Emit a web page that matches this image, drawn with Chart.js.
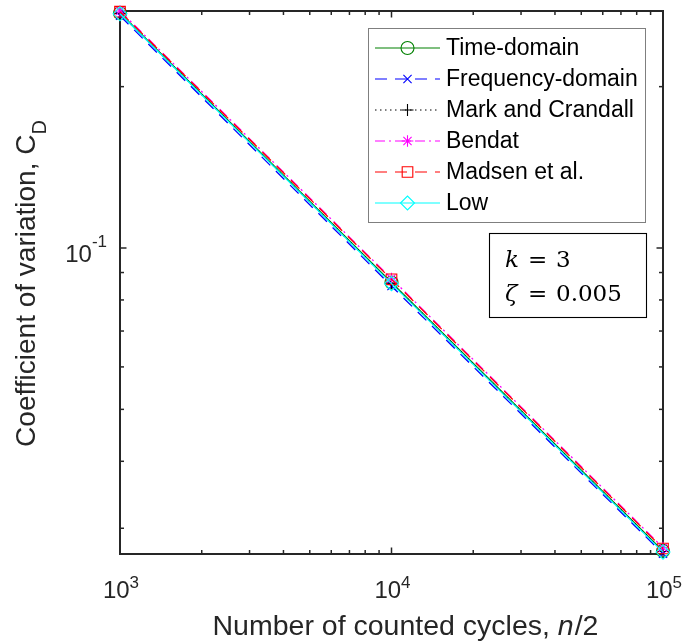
<!DOCTYPE html>
<html><head><meta charset="utf-8">
<script src="https://cdn.jsdelivr.net/npm/chart.js@4/dist/chart.umd.min.js"></script>
<style>html,body{margin:0;padding:0;background:#fff}#wrap{width:683px;height:643px}</style>
</head><body><div id="wrap"><canvas id="c" width="683" height="643"></canvas></div>
<script>
// ---------- data ----------
const cycles = [1000, 10000, 100000];
const seriesNames = ['Time-domain', 'Frequency-domain', 'Mark and Crandall', 'Bendat', 'Madsen et al.', 'Low'];
const timeDomain   = [0.2745, 0.0862, 0.02722];
const freqDomain   = [0.2712, 0.0849, 0.02690];
const markCrandall = [0.2740, 0.0860, 0.02715];
const bendat       = [0.2768, 0.0877, 0.02760];
const madsen       = [0.2760, 0.0874, 0.02750];
const low          = [0.2735, 0.0858, 0.02708];
const xMajorTicks = [1000, 10000, 100000];
const xTickLabels = [['10', '3'], ['10', '4'], ['10', '5']];
const yMajorTicks = [0.1];
const yTickLabels = [['10', '-1']];
const yMinorTicks = [0.03, 0.04, 0.05, 0.06, 0.07, 0.08, 0.09, 0.2];
const xMinorTicks = [2000, 3000, 4000, 5000, 6000, 7000, 8000, 9000, 20000, 30000, 40000, 50000, 60000, 70000, 80000, 90000];
const yRange = [0.02686, 0.2768];
const annotationLines = [['k', ' = ', '3'], ['ζ', ' = ', '0.005']];
const xTitle = ['Number of counted cycles, ', 'n', '/2'];
const yTitle = ['Coefficient of variation, C', 'D'];

// ---------- styles ----------
const allSeries = [timeDomain, freqDomain, markCrandall, bendat, madsen, low];
const styles = [
  {color: '#008000', dash: [], point: 'circle', r: 6.5},
  {color: '#0000ff', dash: [12, 8], point: 'crossRot', r: 5.8},
  {color: '#000000', dash: [1.5, 3.5], point: 'cross', r: 6},
  {color: '#ff00ff', dash: [10, 4, 2, 4], point: 'star', r: 5.8},
  {color: '#ff0000', dash: [12, 8], point: 'rect', r: 7.5},
  {color: '#00ffff', dash: [], point: 'rectRot', r: 7}
];
const AX = '#262626';
const SANS = '"Liberation Sans", Arial, sans-serif';
const SERIF = '"DejaVu Serif", serif';

const datasets = allSeries.map((vals, i) => ({
  label: seriesNames[i],
  data: cycles.map((c, j) => ({x: c, y: vals[j]})),
  borderColor: styles[i].color,
  borderWidth: 1.3,
  borderDash: styles[i].dash,
  pointStyle: styles[i].point,
  pointRadius: styles[i].r,
  pointBorderColor: styles[i].color,
  pointBackgroundColor: 'rgba(0,0,0,0)',
  pointBorderWidth: 1.1,
  fill: false,
  tension: 0,
  clip: false,
  order: allSeries.length - i
}));

function drawMarker(ctx, style, x, y, r) {
  ctx.beginPath();
  const o = r * Math.SQRT1_2;
  if (style === 'circle') { ctx.arc(x, y, r, 0, Math.PI * 2); }
  if (style === 'cross' || style === 'star') { ctx.moveTo(x - r, y); ctx.lineTo(x + r, y); ctx.moveTo(x, y - r); ctx.lineTo(x, y + r); }
  if (style === 'crossRot' || style === 'star') { ctx.moveTo(x - o, y - o); ctx.lineTo(x + o, y + o); ctx.moveTo(x - o, y + o); ctx.lineTo(x + o, y - o); }
  if (style === 'rect') { ctx.rect(x - o, y - o, 2 * o, 2 * o); }
  if (style === 'rectRot') { ctx.moveTo(x - r, y); ctx.lineTo(x, y - r); ctx.lineTo(x + r, y); ctx.lineTo(x, y + r); ctx.closePath(); }
  ctx.stroke();
}

const axesPlugin = {
  id: 'axesBox',
  beforeDatasetsDraw(chart) {
    const {ctx, chartArea: a, scales: {x, y}} = chart;
    ctx.save();
    ctx.strokeStyle = AX;
    ctx.lineWidth = 1.5;
    const seg = (x1, y1, x2, y2) => { ctx.beginPath(); ctx.moveTo(x1, y1); ctx.lineTo(x2, y2); ctx.stroke(); };
    const tx = (v, len) => { const p = x.getPixelForValue(v); seg(p, a.bottom, p, a.bottom - len); seg(p, a.top, p, a.top + len); };
    const ty = (v, len) => { const p = y.getPixelForValue(v); seg(a.left, p, a.left + len, p); seg(a.right, p, a.right - len, p); };
    xMinorTicks.forEach(v => tx(v, 4));
    xMajorTicks.forEach(v => tx(v, 6.5));
    yMinorTicks.forEach(v => ty(v, 4));
    yMajorTicks.forEach(v => ty(v, 6.5));
    ctx.lineWidth = 2;
    ctx.strokeRect(a.left, a.top, a.right - a.left, a.bottom - a.top);

    // tick labels
    ctx.fillStyle = AX;
    ctx.textBaseline = 'alphabetic';
    ctx.textAlign = 'left';
    xMajorTicks.forEach((v, i) => {
      const p = x.getPixelForValue(v);
      ctx.font = '24px ' + SANS; const w1 = ctx.measureText(xTickLabels[i][0]).width;
      ctx.font = '17px ' + SANS; const w2 = ctx.measureText(xTickLabels[i][1]).width;
      const s = p - (w1 + w2) / 2 + 1;
      ctx.font = '24px ' + SANS; ctx.fillText(xTickLabels[i][0], s, 598);
      ctx.font = '17px ' + SANS; ctx.fillText(xTickLabels[i][1], s + w1, 588);
    });
    yMajorTicks.forEach((v, i) => {
      const p = y.getPixelForValue(v);
      ctx.font = '24px ' + SANS; const w1 = ctx.measureText(yTickLabels[i][0]).width;
      ctx.font = '17px ' + SANS; const w2 = ctx.measureText(yTickLabels[i][1]).width;
      const e = a.left - 13;
      ctx.font = '24px ' + SANS; ctx.fillText(yTickLabels[i][0], e - w1 - w2, p + 14);
      ctx.font = '17px ' + SANS; ctx.fillText(yTickLabels[i][1], e - w2, p - 1);
    });

    // x title
    ctx.font = '28.5px ' + SANS; const a1 = ctx.measureText(xTitle[0]).width;
    ctx.font = 'italic 28.5px ' + SANS; const a2 = ctx.measureText(xTitle[1]).width;
    ctx.font = '28.5px ' + SANS; const a3 = ctx.measureText(xTitle[2]).width;
    let sx = 405 - (a1 + a2 + a3) / 2;
    ctx.font = '28.5px ' + SANS; ctx.fillText(xTitle[0], sx, 635);
    ctx.font = 'italic 28.5px ' + SANS; ctx.fillText(xTitle[1], sx + a1, 635);
    ctx.font = '28.5px ' + SANS; ctx.fillText(xTitle[2], sx + a1 + a2 + 1, 635);

    // y title
    ctx.save();
    ctx.translate(35, 283.5);
    ctx.rotate(-Math.PI / 2);
    ctx.font = '28px ' + SANS; const b1 = ctx.measureText(yTitle[0]).width;
    ctx.font = '20px ' + SANS; const b2 = ctx.measureText(yTitle[1]).width;
    const sy = -(b1 + b2) / 2;
    ctx.font = '28px ' + SANS; ctx.fillText(yTitle[0], sy, 0);
    ctx.font = '20px ' + SANS; ctx.fillText(yTitle[1], sy + b1, 11);
    ctx.restore();
    ctx.restore();
  },
  afterDraw(chart) {
    const {ctx} = chart;
    ctx.save();
    // legend
    ctx.fillStyle = '#fff';
    ctx.fillRect(368, 28, 278, 195);
    ctx.strokeStyle = '#7f7f7f';
    ctx.lineWidth = 1;
    ctx.strokeRect(368.5, 28.5, 277, 194);
    seriesNames.forEach((name, i) => {
      const yy = 48 + i * 31;
      const st = styles[i];
      ctx.strokeStyle = st.color;
      ctx.lineWidth = 1.1;
      ctx.setLineDash(st.dash);
      ctx.beginPath(); ctx.moveTo(375, yy); ctx.lineTo(440, yy); ctx.stroke();
      ctx.setLineDash([]);
      drawMarker(ctx, st.point, 407.5, yy, st.r);
      ctx.fillStyle = '#000';
      ctx.font = '23px ' + SANS;
      ctx.textBaseline = 'middle';
      ctx.textAlign = 'left';
      ctx.fillText(name, 446, yy + 1);
    });
    // annotation
    ctx.fillStyle = '#fff';
    ctx.fillRect(489, 233, 158, 84);
    ctx.strokeStyle = '#000';
    ctx.strokeRect(489.5, 233.5, 157, 84);
    ctx.fillStyle = '#000';
    ctx.textBaseline = 'alphabetic';
    const bases = [267, 301];
    annotationLines.forEach((ln, i) => {
      ctx.font = 'italic 23px ' + SERIF; ctx.fillText(ln[0], 505, bases[i]);
      ctx.font = '23px ' + SERIF; ctx.fillText('=', 528, bases[i]);
      ctx.fillText(ln[2], 556, bases[i]);
    });
    ctx.restore();
  }
};

new Chart(document.getElementById('c'), {
  type: 'line',
  data: {datasets},
  options: {
    responsive: false,
    animation: false,
    events: [],
    layout: {padding: {left: 120, right: 20, top: 11, bottom: 89}},
    plugins: {legend: {display: false}, tooltip: {enabled: false}},
    scales: {
      x: {type: 'logarithmic', min: cycles[0], max: cycles[cycles.length - 1], display: false},
      y: {type: 'logarithmic', min: yRange[0], max: yRange[1], display: false}
    }
  },
  plugins: [axesPlugin]
});
</script>
</body></html>
